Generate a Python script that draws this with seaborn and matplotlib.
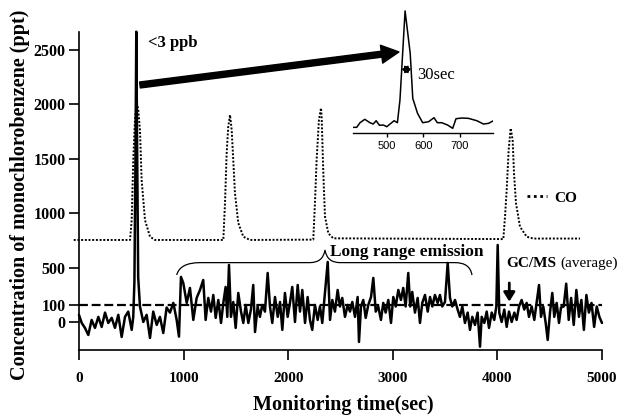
import numpy as np
import pandas as pd
import matplotlib
matplotlib.use("Agg")
import matplotlib.pyplot as plt
import seaborn as sns
from matplotlib.lines import Line2D
from matplotlib.path import Path
from matplotlib.patches import PathPatch

# ---------------- data ----------------
# monochlorobenzene trace (time in s, concentration in ppt)
mcb_time = [0, 26, 57, 89, 121, 153, 185, 217, 249, 280, 313, 344, 376, 408, 440, 471, 504, 519, 530, 540,
            548, 556, 566, 583, 615, 647, 679, 710, 743, 774, 806, 838, 870, 902, 934, 956, 975, 997, 1030, 1061,
            1093, 1125, 1157,
            1188, 1211, 1236, 1262, 1284, 1307, 1332, 1358, 1380, 1402, 1418, 1434, 1453, 1475, 1498, 1523, 1549,
            1571, 1594, 1619, 1644, 1666, 1683, 1708, 1730, 1752, 1778, 1804, 1826, 1848, 1874, 1900, 1922, 1944,
            1969, 1995, 2017, 2039, 2065, 2091, 2113, 2135, 2161, 2186, 2208, 2230, 2256, 2282, 2304,
            2326, 2352, 2378, 2400, 2422, 2447, 2473, 2495, 2517, 2543, 2569, 2591, 2613, 2639, 2664, 2677, 2696,
            2718, 2741, 2766, 2792, 2814, 2837, 2861, 2887, 2909, 2932, 2957, 2983, 3005, 3028, 3053, 3078, 3100,
            3123, 3148, 3167, 3186, 3212, 3238, 3260, 3282, 3308, 3334, 3356, 3378, 3403, 3429, 3451,
            3473, 3499, 3525, 3547, 3569, 3595, 3620, 3642, 3665, 3690, 3716, 3738, 3760, 3786, 3811, 3834, 3850,
            3875, 3898, 3920, 3946, 3970, 3990, 4003, 4018, 4041, 4066, 4089, 4111, 4137, 4162, 4184, 4207, 4232,
            4257, 4280, 4302, 4328, 4353, 4376, 4398, 4417, 4439, 4462, 4481, 4503, 4525, 4544, 4567, 4589, 4608,
            4634, 4658, 4682, 4705, 4730, 4755, 4780, 4803, 4827, 4851, 4875, 4900, 4925, 4950, 4975, 5000]
mcb_ppt = [42, -6, -36, -79, 12, -36, 30, -30, 55, -6, 24, -36, 42, -91, 30, 61, -48, 30, 350, 1500,
           2668, 1600, 400, 91, 0, 42, -97, 61, -18, 30, -67, 85, 55, 122, 12, -89, 403, 338, 122, 284,
           12, 176, 262,
           370, 12, 176, 61, 208, 24, 154, -6, 122, 295, 30, 528, 30, 132, -36, 230, 61,
           -6, 100, -6, 73, 316, -61, 91, 30, 100, 61, 446, 91, -6, 186, 30, 132, -48,
           230, 30, 122, 295, 0, 316, 61, 262, -6, 186, 12, -48, 100, 12, 91,
           -6, 230, 555, 12, 154, 61, 262, 91, 176, 30, 100, 61, 132, 30, 186, -121, 91,
           154, 24, 100, 186, 392, 61, 91, 12, 122, 55, 154, -6, 186, 91, 262, 154,
           284, 91, 446, 91, 241, 55, 176, -6, 122, 208, 61, 186, 91, 208, 122, 208,
           91, 132, 546, 176, 91, 154, 73, 30, 91, -6, 55, -48, 30, -18, 55, -150, 30,
           -6, 61, -36, 55, 12, 91, 711, 55, 0, 73, -30, 61, 0, 55, 12, 91, 154,
           73, 122, 30, 91, 12, 132, 316, 30, 91, -6, -109, 55, 230, 30, 122, -6, 85,
           91, 330, 12, 176, -18, 262, 30, 154, -48, 208, 55, 122, -30, 91, 30, -6]

# CO trace (dotted)
co_time = [-50, 488, 504, 519, 535, 552, 567, 583, 599, 631, 679, 727,
           1380, 1396, 1412, 1427, 1444, 1460, 1475, 1491, 1523, 1571, 1635,
           2240, 2256, 2272, 2294, 2314, 2320, 2336, 2352, 2384, 2431,
           4057, 4073, 4089, 4108, 4127, 4146, 4159, 4178, 4216, 4280, 4343, 4790]
co_ppt = [757, 757, 940, 1491, 1858, 2026, 1950, 1766, 1307, 940, 787, 757,
          757, 1096, 1555, 1796, 1904, 1766, 1491, 1188, 913, 787, 757,
          760, 1096, 1491, 1858, 1968, 1888, 1369, 971, 818, 772,
          765, 971, 1216, 1583, 1782, 1674, 1369, 1094, 879, 787, 770, 770]

# inset: zoom on the first peak
inset_time = [409, 418, 427, 440, 454, 463, 471, 480, 491, 500, 509, 520, 529, 536, 550, 564, 571,
              584, 598, 614, 629, 638, 650, 666, 680, 689, 705, 723, 746, 764, 778, 791]
inset_ppt = [124, 124, 225, 299, 225, 196, 268, 168, 174, 137, 196, 268, 225, 719, 2666, 1737, 756,
             429, 225, 246, 334, 225, 225, 174, 102, 312, 327, 320, 268, 196, 211, 268]
fwhm_time = [540, 567]        # 30 s width marker
fwhm_level = 1389

gcms_average = 100
y_ticks = [0, 100, 500, 1000, 1500, 2000, 2500]
x_ticks = [0, 1000, 2000, 3000, 4000, 5000]
inset_ticks = [500, 600, 700]

# ---------------- style ----------------
sns.set_theme(style="ticks", rc={"axes.edgecolor": "black", "xtick.color": "black",
                                 "ytick.color": "black", "text.color": "black",
                                 "axes.labelcolor": "black"})
plt.rcParams["font.family"] = ["Liberation Serif", "DejaVu Serif"]

fig = plt.figure(figsize=(6.25, 4.18), dpi=100)
W, H = 625.0, 418.0
ax = fig.add_axes([72.7 / W, 68 / H, 529.8 / W, 318.3 / H])

# piecewise-linear y axis, as in the original figure
_v = np.array([-10000.0, 0.0, 100.0, 500.0, 10000.0])
_u = np.array([-1650.0, 0.0, 17.0, 54.0, 54.0 + 9500 * 0.109])
def fwd(v):
    return np.interp(v, _v, _u)
def inv(u):
    return np.interp(u, _u, _v)
ax.set_yscale("function", functions=(fwd, inv))

mcb_df = pd.DataFrame({"time": mcb_time, "ppt": mcb_ppt})
co_df = pd.DataFrame({"time": co_time, "ppt": co_ppt})
ins_df = pd.DataFrame({"time": inset_time, "ppt": inset_ppt})

sns.lineplot(data=co_df, x="time", y="ppt", ax=ax, color="black", linewidth=1.4,
             estimator=None, sort=False, clip_on=False)
ax.lines[-1].set_linestyle((0, (1, 0.9)))
sns.lineplot(data=mcb_df, x="time", y="ppt", ax=ax, color="black", linewidth=1.8,
             estimator=None, sort=False, clip_on=False)
ax.hlines(gcms_average, x_ticks[0], x_ticks[-1], colors="black", linewidth=1.6,
          linestyles=[(0, (4, 1.7))])

ax.set_xlim(-60, 5005)
ax.set_ylim(-170, 2668)
ax.set_xlabel("")
ax.set_ylabel("")
for s in ["top", "right"]:
    ax.spines[s].set_visible(False)
ax.spines["left"].set_position(("data", 0))
ax.spines["bottom"].set_bounds(0, 5000)
for s in ["left", "bottom"]:
    ax.spines[s].set_linewidth(1.2)

ax.set_xticks(x_ticks)
ax.set_xticklabels([str(t) for t in x_ticks], fontweight="bold", fontsize=11)
ax.set_yticks(y_ticks)
ax.set_yticklabels([str(t) for t in y_ticks], fontweight="bold", fontsize=11.5)
ax.tick_params(axis="x", direction="out", length=7.5, width=1.2, pad=8)
ax.tick_params(axis="y", direction="out", length=7.5, width=1.2, pad=2)
ax.minorticks_off()

fig.text(20 / W, 1 - 195 / H, "Concentration of monochlorobenzene (ppt)", rotation=90,
         ha="center", va="center", fontsize=14.5, fontweight="bold")
fig.text(343 / W, 1 - 405 / H, "Monitoring time(sec)", ha="center", va="center",
         fontsize=14.5, fontweight="bold")

# annotations
ax.text(660, 2567, "<3 ppb", ha="left", va="center", fontsize=12, fontweight="bold")
ax.annotate("", xy=(3059, 2482), xytext=(583, 2179), annotation_clip=False,
            arrowprops=dict(arrowstyle="simple,head_length=0.7,head_width=0.72,tail_width=0.24",
                            color="black", mutation_scale=18, shrinkA=0, shrinkB=0))

ax.text(3136, 642, "Long range emission", ha="center", va="center", fontsize=12.5, fontweight="bold")
verts = [(934, 424), (966, 549), (1157, 549), (2208, 549), (2333, 549), (2352, 665),
         (2371, 549), (2495, 549), (3595, 549), (3738, 549), (3757, 424)]
codes = [Path.MOVETO, Path.CURVE3, Path.CURVE3, Path.LINETO, Path.CURVE3, Path.CURVE3,
         Path.CURVE3, Path.CURVE3, Path.LINETO, Path.CURVE3, Path.CURVE3]
ax.add_patch(PathPatch(Path(verts, codes), facecolor="none", edgecolor="black", lw=0.9))

ax.text(4089, 543, "GC/MS", ha="left", va="center", fontsize=11, fontweight="bold")
ax.text(4598, 543, "(average)", ha="left", va="center", fontsize=11)
ax.annotate("", xy=(4114, 136), xytext=(4114, 338), annotation_clip=False,
            arrowprops=dict(arrowstyle="-|>,head_length=0.45,head_width=0.28", lw=2,
                            color="black", mutation_scale=12, shrinkA=0, shrinkB=0))

co_handle = Line2D([], [], color="black", lw=2.0, linestyle=(0, (1, 1.3)))
leg = fig.legend(handles=[co_handle], labels=["CO"], loc="center left",
                 bbox_to_anchor=(527 / W, 1 - 198 / H), frameon=False, borderpad=0,
                 borderaxespad=0, handlelength=1.3, handletextpad=0.5,
                 prop={"family": "Liberation Serif", "weight": "bold", "size": 11})

# inset
ax_in = fig.add_axes([352.7 / W, (H - 133) / H, (493 - 352.7) / W, 125 / H])
ax_in.patch.set_visible(False)
sns.lineplot(data=ins_df, x="time", y="ppt", ax=ax_in, color="black", linewidth=1.1,
             estimator=None, sort=False)
ax_in.set_xlim(407, 790)
ax_in.set_ylim(0, 2730)
ax_in.set_xlabel("")
ax_in.set_ylabel("")
ax_in.set_yticks([])
for s in ["top", "right", "left"]:
    ax_in.spines[s].set_visible(False)
ax_in.spines["bottom"].set_linewidth(1.0)
ax_in.set_xticks(inset_ticks)
ax_in.set_xticklabels([str(t) for t in inset_ticks],
                      fontdict={"family": ["Liberation Sans Narrow", "Liberation Sans"], "size": 8})
ax_in.tick_params(axis="x", direction="out", length=3, width=1, pad=3)
ax_in.annotate("", xy=(fwhm_time[1], fwhm_level), xytext=(fwhm_time[0], fwhm_level),
               arrowprops=dict(arrowstyle="<|-|>,head_length=0.5,head_width=0.3", lw=1.2,
                               color="black", mutation_scale=7, shrinkA=0, shrinkB=0))
ax_in.scatter([np.mean(fwhm_time)], [fwhm_level], s=12, color="black", zorder=5)
ax_in.text(583, 1264, "30sec", ha="left", va="center", fontsize=12)

fig.savefig("out.png", dpi=100)
